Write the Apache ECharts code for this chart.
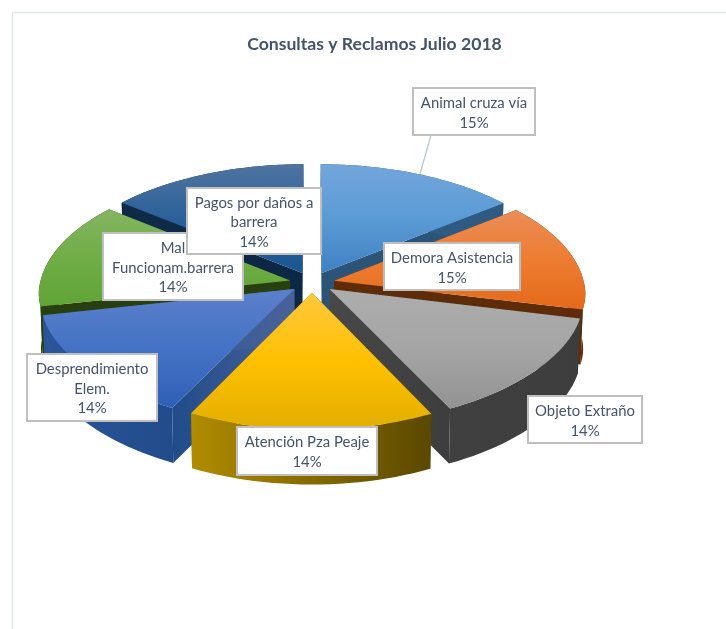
<!DOCTYPE html>
<html>
<head>
<meta charset="utf-8">
<style>html,body{margin:0;padding:0;background:#fff}#c{width:726px;height:629px}</style>
<script src="https://cdn.jsdelivr.net/npm/echarts@6/dist/echarts.min.js"></script>
</head>
<body>
<div id="c"></div>
<script>
const titleText = 'Consultas y Reclamos Julio 2018';
const categories = ['Animal cruza vía', 'Demora Asistencia', 'Objeto Extraño', 'Atención Pza Peaje', 'Desprendimiento\nElem.', 'Mal\nFuncionam.barrera', 'Pagos por daños a\nbarrera'];
const values = [14.55, 14.55, 13.8, 14.3, 14.1, 14.25, 14.45];
const topColors = [
  ['#72a6dc', '#5b9bd5', '#3f80c2'],
  ['#ea8d58', '#ed7d31', '#e5691a'],
  ['#adadad', '#a5a5a5', '#929292'],
  ['#ffc83f', '#ffc000', '#e2ae00'],
  ['#5c80cb', '#4472c4', '#2f5fb6'],
  ['#85b562', '#70ad47', '#60a436'],
  ['#4f74a0', '#2a6099', '#1b5690']
];
const outerWall = [
  ['#2f5a82', '#2f5a82'], ['#5e2c08', '#5e2c08'], ['#404040', '#3d3d3d'], ['#b08c00', '#5a4800'],
  ['#2c559a', '#214b8a'], ['#28400f', '#28400f'], ['#0f2a47', '#0f2a47']
];
const radialWall = [
  ['#2c5479', '#2c5479'], ['#5e2c08', '#5e2c08'], ['#484848', '#3d3d3d'], ['#7a6000', '#7a6000'],
  ['#214b8a', '#486299'], ['#28400f', '#28400f'], ['#0c2844', '#0c2844']
];
const labelBoxes = [
  [413, 88, 122, 47], [384, 243, 136, 47], [528, 396, 114, 47], [237, 427, 140, 48],
  [27, 354, 130, 67], [103, 233, 140, 67], [187, 188, 134, 66]
];
const leader = [[431, 135], [420, 174]];

// 3D view of the exploded pie
const CX = 312, CY = 283, R = 250, EXPLODE = 0.09, DEPTH = 55, STEP = 2;
const total = values.reduce((a, b) => a + b, 0);
const cum = [0];
values.forEach(v => cum.push(cum[cum.length - 1] + v / total * 360));
const rad = d => d * Math.PI / 180;
function project(x, z) {
  const xf = 1 - 0.112 * z - 0.005 * z * z;
  const yv = z >= 0 ? z * (125 - 14 * z) : z * (105 - 27 * z);
  return [CX + R * x * xf, CY - yv];
}
function slicePoint(i, deg, r) {
  const mid = rad((cum[i] + cum[i + 1]) / 2);
  const a = rad(deg);
  return project(r * Math.sin(a) + EXPLODE * Math.sin(mid), r * Math.cos(a) + EXPLODE * Math.cos(mid));
}
const down = p => [CX + (p[0] - CX) * 0.992, p[1] + DEPTH];
function gradV(c) {
  return { type: 'linear', x: 0, y: 0, x2: 0, y2: 1, colorStops: [{ offset: 0, color: c[0] }, { offset: 0.5, color: c[1] }, { offset: 1, color: c[2] }] };
}
function gradH(c) {
  return { type: 'linear', x: 0, y: 0, x2: 1, y2: 0, colorStops: [{ offset: 0, color: c[0] }, { offset: 1, color: c[1] }] };
}
function renderItem(params, api) {
  const i = params.dataIndex;
  const a0 = cum[i], a1 = cum[i + 1];
  const mid = rad((a0 + a1) / 2);
  const base = Math.round((1.2 - Math.cos(mid)) * 100);
  const apex = slicePoint(i, 0, 0);
  const arc = [];
  const n = Math.ceil((a1 - a0) / STEP);
  for (let k = 0; k <= n; k++) arc.push(slicePoint(i, a0 + (a1 - a0) * k / n, 1));
  const first = arc[0], last = arc[arc.length - 1];
  const quad = (p, q) => [p, q, down(q), down(p)];
  const children = [
    { type: 'polygon', z2: base, shape: { points: quad(apex, first) }, style: { fill: gradH(radialWall[i]) } },
    { type: 'polygon', z2: base, shape: { points: quad(apex, last) }, style: { fill: gradH(radialWall[i]) } },
    { type: 'polygon', z2: base + 1, shape: { points: arc.concat(arc.map(down).reverse()) }, style: { fill: gradH(outerWall[i]) } },
    { type: 'polygon', z2: base + 2, shape: { points: [apex].concat(arc) }, style: { fill: gradV(topColors[i]) } }
  ];
  const b = labelBoxes[i];
  const pct = Math.round(api.value(0) / total * 100) + '%';
  children.push({
    type: 'rect', z2: 1000 + i * 2, shape: { x: b[0], y: b[1], width: b[2], height: b[3] },
    style: { fill: '#fff', stroke: '#bfbfbf', lineWidth: 2 }
  });
  children.push({
    type: 'text', z2: 1001 + i * 2,
    style: {
      text: categories[i] + '\n' + pct, x: b[0] + b[2] / 2, y: b[1] + b[3] / 2 + 1.5,
      align: 'center', verticalAlign: 'middle', fill: '#44546a',
      font: '14.9px Lato', lineHeight: 19.7
    }
  });
  if (i === 0) {
    children.push({
      type: 'line', z2: 999, shape: { x1: leader[0][0], y1: leader[0][1], x2: leader[1][0], y2: leader[1][1] },
      style: { stroke: '#b4c3d5', lineWidth: 1.2 }
    });
  }
  return { type: 'group', children };
}
const chart = echarts.init(document.getElementById('c'), null, { renderer: 'canvas' });
chart.setOption({
  animation: false,
  backgroundColor: '#fff',
  title: {
    text: titleText, left: 369.5, top: 30, textAlign: 'center',
    textStyle: { fontFamily: 'Lato', fontSize: 17.6, fontWeight: 'bold', color: '#44546a' }
  },
  graphic: [
    { type: 'line', silent: true, shape: { x1: 12.5, y1: 12, x2: 12.5, y2: 629 }, style: { stroke: '#e2e7ec', lineWidth: 1.5 } },
    { type: 'line', silent: true, shape: { x1: 12, y1: 12.5, x2: 726, y2: 12.5 }, style: { stroke: '#e2e7ec', lineWidth: 1.5 } }
  ],
  series: [{
    type: 'custom', coordinateSystem: 'none', silent: true,
    data: values.map(v => [v]), renderItem
  }]
});
</script>
</body>
</html>
